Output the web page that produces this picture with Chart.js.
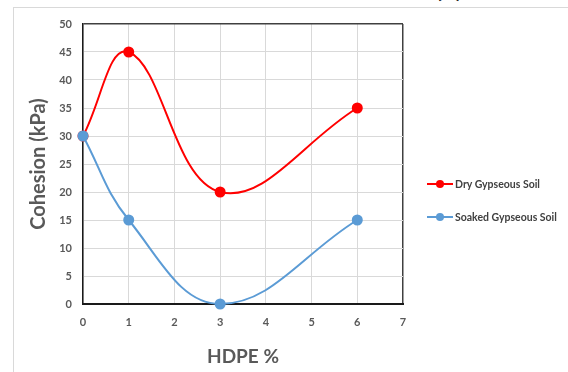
<!DOCTYPE html>
<html>
<head>
<meta charset="utf-8">
<script src="https://cdn.jsdelivr.net/npm/chart.js@4"></script>
<style>
	body { margin: 0; background: #fff; overflow: hidden; }
	#wrap { position: relative; width: 568px; height: 372px; overflow: hidden; }
	#frame { position: absolute; left: 13px; top: 7px; width: 600px; height: 400px; border: 1px solid #d9d9d9; box-sizing: border-box; }
	#tag { position: absolute; left: 435px; top: -29px; font: bold 27px Lato, sans-serif; line-height: 32px; color: #000; }
	#legend { position: absolute; left: 427px; top: 176px; font: bold 10.5px Lato, sans-serif; color: #404040; }
	.item { display: flex; align-items: center; height: 27px; margin-top: 0; line-height: 14px; }
	.item:first-child { height: 16px; margin-bottom: 11px; }
	.mark { position: relative; width: 26px; height: 2px; margin-right: 2px; }
	.mark i { position: absolute; left: 9px; top: -3px; width: 8px; height: 8px; border-radius: 50%; }
	canvas { position: absolute; left: 0; top: 0; }
</style>
</head>
<body>
<div id="wrap">
	<div id="frame"></div>
	<div id="tag">(a)</div>
	<canvas id="chart" width="568" height="372"></canvas>
	<div id="legend"></div>
</div>
<script>
// HDPE content (%)
const hdpe = [0, 1, 3, 6]
const drySoil = [30, 45, 20, 35]
const soakedSoil = [30, 15, 0, 15]

const seriesNames = ["Dry Gypseous Soil", "Soaked Gypseous Soil"]
const seriesColors = ["#ff0000", "#5b9bd5"]

const xTicks = [0, 1, 2, 3, 4, 5, 6, 7]
const yTicks = [0, 5, 10, 15, 20, 25, 30, 35, 40, 45, 50]

const gray = "#595959"
const font = "Lato, sans-serif"

const toPoints = (vals) => vals.map((v, i) => ({ x: hdpe[i], y: v }))

const config = {
	type: "line",
	data: {
		datasets: [
			{
				label: seriesNames[0],
				data: toPoints(drySoil),
				borderColor: seriesColors[0],
				backgroundColor: seriesColors[0],
				borderWidth: 2,
				pointRadius: 4.5,
				tension: 0.4,
				clip: false,
				order: 1,
			},
			{
				label: seriesNames[1],
				data: toPoints(soakedSoil),
				borderColor: seriesColors[1],
				backgroundColor: seriesColors[1],
				borderWidth: 2,
				pointRadius: 4.5,
				tension: 0.4,
				clip: false,
				order: 0,
			},
		],
	},
	options: {
		responsive: false,
		animation: false,
		layout: { padding: { left: 27, top: 24, right: 165, bottom: 4 } },
		scales: {
			x: {
				type: "linear",
				min: xTicks[0],
				max: xTicks[xTicks.length - 1],
				afterBuildTicks: (s) => { s.ticks = xTicks.map((v) => ({ value: v })) },
				afterFit: (s) => { s.height = 64 },
				grid: {
					drawTicks: false,
					color: (c) => (c.tick && c.tick.value === 7 ? "#404040" : "#d9d9d9"),
					lineWidth: (c) => (c.tick && c.tick.value === 7 ? 1.5 : 1),
				},
				border: { color: "#1a1a1a", width: 2 },
				ticks: { padding: 12, color: gray, font: { family: font, size: 11, weight: "bold" } },
				title: {
					display: true,
					text: "HDPE %",
					color: gray,
					padding: 0,
					font: { family: font, size: 19, weight: "bold" },
				},
			},
			y: {
				min: yTicks[0],
				max: yTicks[yTicks.length - 1],
				afterBuildTicks: (s) => { s.ticks = yTicks.map((v) => ({ value: v })) },
				afterFit: (s) => { s.width = 56 },
				grid: {
					drawTicks: false,
					color: (c) => (c.tick && c.tick.value === 50 ? "#404040" : "#d9d9d9"),
					lineWidth: (c) => (c.tick && c.tick.value === 50 ? 1.5 : 1),
				},
				border: { color: "#1a1a1a", width: 1.5 },
				ticks: { padding: 11, color: gray, font: { family: font, size: 11, weight: "bold" } },
				title: {
					display: true,
					text: "Cohesion (kPa)",
					color: gray,
					padding: 0,
					font: { family: font, size: 20, weight: "bold" },
				},
			},
		},
		plugins: {
			legend: { display: false },
			tooltip: { enabled: false },
		},
	},
}

new Chart(document.getElementById("chart"), config)

// legend on the right, line with a dot like the original
const legend = document.getElementById("legend")
seriesNames.forEach((name, i) => {
	const row = document.createElement("div")
	row.className = "item"
	row.innerHTML =
		'<span class="mark" style="background:' + seriesColors[i] + '"><i style="background:' +
		seriesColors[i] + '"></i></span><span>' + name + "</span>"
	legend.appendChild(row)
})
</script>
</body>
</html>
